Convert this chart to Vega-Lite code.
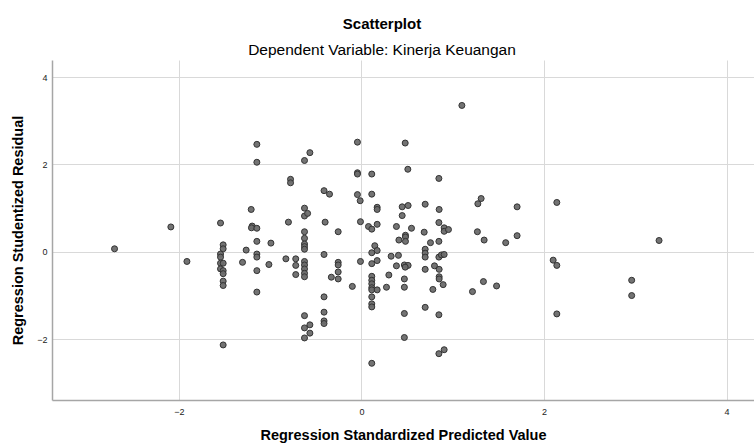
{
  "$schema": "https://vega.github.io/schema/vega-lite/v6.json",
  "autosize": {"type": "none"},
  "width": 702,
  "height": 340,
  "padding": {"left": 52, "top": 60, "right": 0, "bottom": 43},
  "background": "white",
  "title": {
    "text": "Scatterplot",
    "subtitle": "Dependent Variable: Kinerja Keuangan",
    "anchor": "middle",
    "frame": "group",
    "dx": -21,
    "offset": 2,
    "font": "Liberation Sans",
    "fontSize": 15,
    "fontWeight": "bold",
    "color": "#000000",
    "subtitleFont": "Liberation Sans",
    "subtitleFontSize": 15.5,
    "subtitleColor": "#000000",
    "subtitlePadding": 11
  },
  "config": {
    "view": {"stroke": null},
    "axis": {
      "grid": true,
      "gridColor": "#d9d9d9",
      "gridWidth": 1,
      "ticks": false,
      "domainColor": "#a6a6a6",
      "domainWidth": 1.5,
      "labelFont": "Liberation Sans",
      "labelFontSize": 9,
      "labelColor": "#222222",
      "titleFont": "Liberation Sans",
      "titleFontSize": 14.5,
      "titleFontWeight": "bold",
      "titleColor": "#000000"
    }
  },
  "data": {
    "values": [
      {"x": -2.705, "y": 0.07}, {"x": -2.088, "y": 0.57}, {"x": -1.912, "y": -0.22},
      {"x": -1.544, "y": 0.66}, {"x": -1.515, "y": 0.16}, {"x": -1.515, "y": 0.07},
      {"x": -1.544, "y": -0.05}, {"x": -1.544, "y": -0.12}, {"x": -1.544, "y": -0.26},
      {"x": -1.544, "y": -0.39}, {"x": -1.515, "y": -0.26}, {"x": -1.515, "y": -0.43},
      {"x": -1.515, "y": -0.50}, {"x": -1.515, "y": -0.67}, {"x": -1.515, "y": -0.77},
      {"x": -1.515, "y": -2.13}, {"x": -1.303, "y": -0.24}, {"x": -1.263, "y": 0.04},
      {"x": -1.208, "y": 0.97}, {"x": -1.197, "y": 0.59}, {"x": -1.205, "y": 0.55},
      {"x": -1.146, "y": 0.54}, {"x": -1.146, "y": 2.46}, {"x": -1.146, "y": 2.05},
      {"x": -1.146, "y": 0.24}, {"x": -1.146, "y": -0.05}, {"x": -1.146, "y": -0.12},
      {"x": -1.146, "y": -0.43}, {"x": -1.146, "y": -0.92}, {"x": -1.014, "y": -0.29},
      {"x": -0.992, "y": 0.20}, {"x": -0.828, "y": -0.16}, {"x": -0.80, "y": 0.68},
      {"x": -0.777, "y": 1.66}, {"x": -0.777, "y": 1.58},
      {"x": -0.72, "y": -0.16}, {"x": -0.72, "y": -0.31}, {"x": -0.72, "y": -0.52},
      {"x": -0.624, "y": 2.09}, {"x": -0.565, "y": 2.27}, {"x": -0.624, "y": 1.00},
      {"x": -0.624, "y": 0.82}, {"x": -0.59, "y": 0.88}, {"x": -0.624, "y": 0.46},
      {"x": -0.624, "y": 0.31}, {"x": -0.624, "y": 0.18}, {"x": -0.624, "y": 0.12},
      {"x": -0.624, "y": 0.06}, {"x": -0.624, "y": -0.22}, {"x": -0.624, "y": -0.30},
      {"x": -0.624, "y": -0.39}, {"x": -0.624, "y": -0.49}, {"x": -0.624, "y": -0.57},
      {"x": -0.624, "y": -1.46}, {"x": -0.624, "y": -1.74}, {"x": -0.565, "y": -1.67},
      {"x": -0.565, "y": -1.86}, {"x": -0.624, "y": -1.97},
      {"x": -0.41, "y": 1.40}, {"x": -0.35, "y": 1.32}, {"x": -0.398, "y": 0.68},
      {"x": -0.41, "y": -0.06}, {"x": -0.41, "y": -1.03}, {"x": -0.41, "y": -1.38},
      {"x": -0.41, "y": -1.58}, {"x": -0.41, "y": -1.64},
      {"x": -0.255, "y": 0.46}, {"x": -0.255, "y": -0.24}, {"x": -0.255, "y": -0.30},
      {"x": -0.255, "y": -0.46}, {"x": -0.255, "y": -0.62}, {"x": -0.33, "y": -0.58},
      {"x": -0.10, "y": -0.79}, {"x": -0.044, "y": 2.51}, {"x": -0.044, "y": 1.81},
      {"x": -0.044, "y": 1.78}, {"x": -0.044, "y": 1.31}, {"x": -0.014, "y": 1.17},
      {"x": -0.011, "y": 0.69}, {"x": -0.011, "y": -0.22},
      {"x": 0.113, "y": 1.78}, {"x": 0.113, "y": 1.32}, {"x": 0.172, "y": 1.02},
      {"x": 0.172, "y": 0.97}, {"x": 0.172, "y": 0.63}, {"x": 0.077, "y": 0.58},
      {"x": 0.113, "y": 0.52}, {"x": 0.146, "y": 0.14}, {"x": 0.113, "y": -0.02},
      {"x": 0.172, "y": 0.03}, {"x": 0.113, "y": -0.27}, {"x": 0.172, "y": -0.20},
      {"x": 0.113, "y": -0.56}, {"x": 0.113, "y": -0.65}, {"x": 0.113, "y": -0.73},
      {"x": 0.113, "y": -0.82}, {"x": 0.113, "y": -0.87}, {"x": 0.172, "y": -0.87},
      {"x": 0.113, "y": -1.03}, {"x": 0.113, "y": -1.19}, {"x": 0.113, "y": -1.26},
      {"x": 0.113, "y": -2.55},
      {"x": 0.479, "y": 2.49}, {"x": 0.508, "y": 1.89}, {"x": 0.446, "y": 1.03},
      {"x": 0.511, "y": 1.06}, {"x": 0.446, "y": 0.83}, {"x": 0.383, "y": 0.58},
      {"x": 0.548, "y": 0.54}, {"x": 0.482, "y": 0.38}, {"x": 0.482, "y": 0.34},
      {"x": 0.41, "y": 0.27}, {"x": 0.482, "y": 0.24}, {"x": 0.325, "y": -0.10},
      {"x": 0.405, "y": -0.08}, {"x": 0.383, "y": -0.32}, {"x": 0.47, "y": -0.30},
      {"x": 0.511, "y": -0.31}, {"x": 0.479, "y": -0.35}, {"x": 0.30, "y": -0.53},
      {"x": 0.274, "y": -0.81}, {"x": 0.47, "y": -0.62}, {"x": 0.47, "y": -0.81},
      {"x": 0.47, "y": -1.41}, {"x": 0.47, "y": -1.96},
      {"x": 0.848, "y": 1.68}, {"x": 0.698, "y": 1.09}, {"x": 0.851, "y": 0.97},
      {"x": 0.848, "y": 0.67}, {"x": 0.687, "y": 0.45}, {"x": 0.906, "y": 0.55},
      {"x": 0.906, "y": 0.47}, {"x": 0.953, "y": 0.51}, {"x": 0.756, "y": 0.21},
      {"x": 0.848, "y": 0.24}, {"x": 0.698, "y": 0.06}, {"x": 0.698, "y": -0.03},
      {"x": 0.698, "y": -0.12}, {"x": 0.698, "y": -0.40}, {"x": 0.698, "y": -1.27},
      {"x": 0.782, "y": -0.86}, {"x": 0.80, "y": -0.32}, {"x": 0.851, "y": -0.40},
      {"x": 0.851, "y": -0.57}, {"x": 0.851, "y": -0.62}, {"x": 0.895, "y": -0.75},
      {"x": 0.848, "y": -0.12}, {"x": 0.876, "y": -0.07}, {"x": 0.906, "y": -0.06},
      {"x": 0.848, "y": -1.44}, {"x": 0.848, "y": -2.33}, {"x": 0.906, "y": -2.24},
      {"x": 1.10, "y": 3.35},
      {"x": 1.216, "y": -0.91}, {"x": 1.311, "y": 1.22}, {"x": 1.275, "y": 1.10},
      {"x": 1.27, "y": 0.46}, {"x": 1.344, "y": 0.27}, {"x": 1.58, "y": 0.21},
      {"x": 1.705, "y": 0.37}, {"x": 1.705, "y": 1.03}, {"x": 2.14, "y": 1.13},
      {"x": 2.10, "y": -0.19}, {"x": 2.14, "y": -0.31}, {"x": 1.336, "y": -0.68},
      {"x": 1.48, "y": -0.78}, {"x": 2.14, "y": -1.42},
      {"x": 3.26, "y": 0.26}, {"x": 2.96, "y": -0.65}, {"x": 2.96, "y": -1.00}
    ]
  },
  "mark": {
    "type": "point",
    "filled": true,
    "size": 36,
    "fill": "#6b6b6b",
    "stroke": "#333333",
    "strokeWidth": 1,
    "opacity": 1,
    "fillOpacity": 0.95
  },
  "encoding": {
    "x": {
      "field": "x",
      "type": "quantitative",
      "scale": {"domain": [-3.39, 4.3], "nice": false, "zero": false},
      "axis": {
        "title": "Regression Standardized Predicted Value",
        "values": [-2, 0, 2, 4],
        "labelPadding": 7,
        "titlePadding": 12
      }
    },
    "y": {
      "field": "y",
      "type": "quantitative",
      "scale": {"domain": [-3.39, 4.39], "nice": false, "zero": false},
      "axis": {
        "title": "Regression Studentized Residual",
        "values": [-2, 0, 2, 4],
        "labelPadding": 5,
        "titlePadding": 11
      }
    }
  }
}
